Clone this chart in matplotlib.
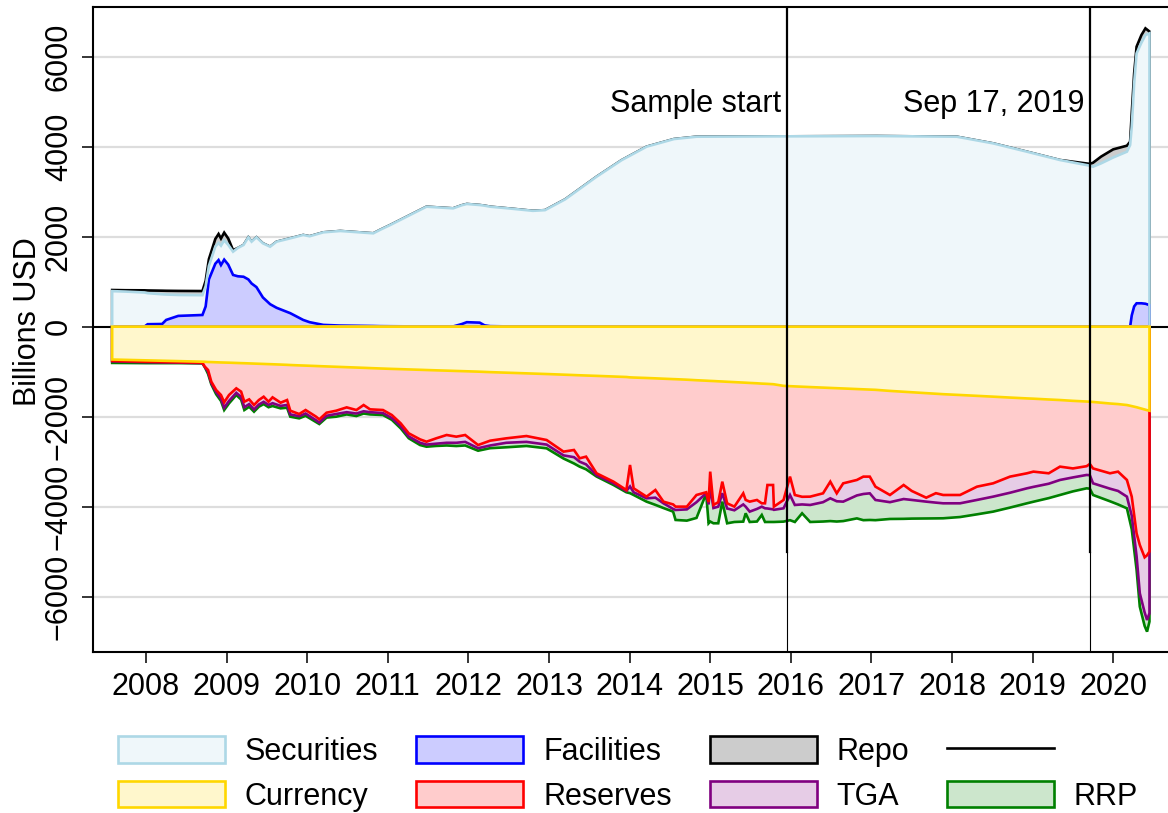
import matplotlib
matplotlib.use("Agg")
import matplotlib.pyplot as plt
from matplotlib.patches import Patch
from matplotlib.lines import Line2D
import numpy as np

plt.rcParams['font.family'] = ['Liberation Sans', 'DejaVu Sans']

# ---- assets side (billions USD), decimal years ----
asset_years = [2007.58, 2007.75, 2007.98, 2008.02, 2008.20, 2008.25, 2008.40, 2008.70,
               2008.74, 2008.78, 2008.86, 2008.90, 2008.93, 2008.97, 2009.02, 2009.08,
               2009.14, 2009.21, 2009.27, 2009.31, 2009.37, 2009.45, 2009.54, 2009.62,
               2009.79, 2009.95, 2010.03, 2010.20, 2010.41, 2010.82, 2010.90, 2011.03,
               2011.48, 2011.81, 2011.92, 2011.98, 2012.14, 2012.20, 2012.27, 2012.55,
               2012.80, 2012.95, 2013.20, 2013.59, 2013.90, 2014.21, 2014.55, 2014.83,
               2015.93, 2017.07, 2018.06, 2018.51, 2018.93, 2019.34, 2019.71, 2019.75,
               2019.85, 2020.00, 2020.17, 2020.21, 2020.23, 2020.26, 2020.29, 2020.35,
               2020.40, 2020.45]
facilities = [0, 0, 0, 55, 60, 150, 240, 260,
              450, 1050, 1400, 1480, 1370, 1490, 1380, 1150,
              1120, 1110, 1050, 960, 880, 650, 500, 420,
              300, 150, 100, 40, 25, 15, 12, 10,
              5, 5, 60, 100, 90, 30, 12, 5,
              3, 2, 2, 1, 1, 0, 0, 0,
              0, 0, 0, 0, 0, 0, 0, 0,
              0, 0, 0, 0, 250, 450, 520, 520,
              510, 480]
securities = [790, 780, 760, 690, 660, 565, 465, 440,
              450, 300, 380, 380, 430, 430, 440, 517,
              630, 706, 937, 930, 1107, 1203, 1278, 1469,
              1664, 1888, 1910, 2057, 2102, 2060, 2137, 2250,
              2662, 2625, 2640, 2627, 2614, 2660, 2655, 2615,
              2572, 2588, 2828, 3332, 3699, 4000, 4170, 4222,
              4230, 4237, 4222, 4074, 3889, 3704, 3578, 3556,
              3630, 3760, 3889, 4037, 4194, 4957, 5554, 5791,
              5971, 6039]
repo = [25, 30, 48, 60, 80, 83, 90, 92,
        120, 150, 170, 200, 160, 170, 140, 33,
        0, 0, 0, 0, 0, 0, 0, 0,
        0, 0, 0, 0, 0, 0, 0, 0,
        0, 0, 0, 0, 0, 0, 0, 0,
        0, 0, 0, 0, 0, 0, 0, 0,
        0, 0, 0, 0, 0, 0, 40, 88,
        150, 181, 133, 74, 297, 223, 148, 170,
        149, 41]

# ---- liabilities side (billions USD, plotted negative) ----
liab_years = [2007.58, 2008.00, 2008.40, 2008.70, 2008.73, 2008.77, 2008.81, 2008.87,
              2008.93, 2008.97, 2009.03, 2009.12, 2009.18, 2009.22, 2009.28, 2009.34,
              2009.40, 2009.46, 2009.52, 2009.57, 2009.67, 2009.75, 2009.79, 2009.90,
              2009.98, 2010.11, 2010.15, 2010.24, 2010.36, 2010.49, 2010.61, 2010.70,
              2010.78, 2010.94, 2011.05, 2011.16, 2011.26, 2011.40, 2011.48, 2011.60,
              2011.73, 2011.85, 2011.96, 2012.12, 2012.27, 2012.47, 2012.72, 2012.97,
              2013.18, 2013.31, 2013.38, 2013.46, 2013.59, 2013.80, 2013.96, 2014.005,
              2014.05, 2014.21, 2014.32, 2014.42, 2014.54, 2014.57, 2014.71, 2014.83,
              2014.95, 2014.98, 2015.00, 2015.04, 2015.10, 2015.15, 2015.21, 2015.30,
              2015.41, 2015.44, 2015.49, 2015.58, 2015.64, 2015.68, 2015.71, 2015.78,
              2015.79, 2015.91, 2015.99, 2016.05, 2016.14, 2016.24, 2016.40, 2016.49,
              2016.57, 2016.65, 2016.82, 2016.90, 2016.98, 2017.05, 2017.23, 2017.40,
              2017.50, 2017.68, 2017.80, 2017.89, 2018.10, 2018.31, 2018.51, 2018.72,
              2018.93, 2019.01, 2019.20, 2019.34, 2019.50, 2019.67, 2019.71, 2019.75,
              2019.96, 2020.06, 2020.17, 2020.23, 2020.29, 2020.33, 2020.39, 2020.42,
              2020.45]
currency = [730, 748, 765, 778, 780, 785, 787, 791,
            795, 797, 800, 806, 810, 812, 816, 820,
            824, 828, 832, 835, 842, 848, 852, 860,
            865, 874, 877, 883, 891, 900, 908, 914,
            920, 931, 938, 944, 950, 958, 963, 970,
            977, 984, 990, 999, 1010, 1022, 1037, 1052,
            1066, 1075, 1080, 1085, 1093, 1107, 1118, 1126,
            1130, 1140, 1148, 1156, 1165, 1167, 1178, 1190,
            1200, 1203, 1205, 1208, 1214, 1218, 1224, 1232,
            1242, 1245, 1250, 1258, 1265, 1268, 1271, 1278,
            1280, 1315, 1322, 1327, 1334, 1342, 1354, 1361,
            1367, 1373, 1386, 1392, 1398, 1403, 1427, 1446,
            1457, 1477, 1490, 1500, 1518, 1537, 1555, 1575,
            1594, 1600, 1618, 1630, 1648, 1663, 1667, 1673,
            1707, 1720, 1741, 1765, 1790, 1810, 1840, 1855,
            1867]
reserves = [30, 30, 25, 22, 109, 178, 435, 616,
            723, 883, 718, 564, 634, 855, 799, 921,
            806, 728, 835, 735, 847, 782, 1015, 1081,
            987, 1126, 1182, 1028, 976, 893, 944, 827,
            917, 921, 1025, 1204, 1420, 1546, 1593, 1511,
            1430, 1460, 1417, 1631, 1523, 1459, 1393, 1466,
            1711, 1665, 1845, 1803, 2165, 2337, 2511, 1947,
            2462, 2637, 2481, 2732, 2785, 2832, 2821, 2550,
            2480, 2697, 2016, 2754, 2686, 2226, 2701, 2767,
            2461, 2605, 2638, 2593, 2660, 2657, 2247, 2240,
            2719, 2536, 2010, 2413, 2446, 2435, 2349, 2083,
            2336, 2108, 2020, 1940, 1934, 2152, 2313, 2072,
            2193, 2323, 2210, 2240, 2222, 2018, 1926, 1757,
            1664, 1621, 1640, 1480, 1502, 1437, 1384, 1477,
            1551, 1501, 1665, 2012, 2802, 3040, 3285, 3225,
            3132]
tga = [10, 10, 8, 10, 5, 37, 28, 43,
       82, 120, 132, 100, 116, 123, 105, 99,
       100, 114, 73, 130, 71, 110, 83, 49,
       78, 80, 71, 69, 73, 107, 78, 139,
       63, 68, 67, 62, 70, 76, 64, 119,
       173, 136, 153, 70, 107, 99, 130, 102,
       83, 160, 75, 172, 42, 36, 21, 477,
       88, 37, 171, 37, 100, 74, 61, 160,
       20, 50, 334, 68, 100, 256, 115, 81,
       247, 150, 222, 199, 75, 111, 522, 542,
       71, 185, 408, 222, 170, 185, 197, 370,
       177, 407, 344, 386, 371, 296, 160, 312,
       200, 88, 210, 185, 185, 295, 296, 358,
       334, 339, 232, 296, 200, 195, 249, 331,
       342, 429, 371, 423, 508, 1075, 1225, 1438,
       1371]
rrp = [35, 22, 12, 5, 6, 50, 30, 50,
       50, 52, 54, 48, 60, 62, 60, 49,
       48, 50, 50, 63, 55, 60, 50, 47,
       50, 40, 33, 40, 60, 50, 55, 50,
       50, 43, 40, 49, 40, 50, 47, 50,
       60, 72, 80, 56, 60, 100, 91, 83,
       70, 140, 110, 110, 30, 38, 30, 150,
       60, 74, 160, 105, 60, 222, 250, 350,
       10, 419, 775, 339, 369, 188, 329, 260,
       382, 147, 230, 280, 184, 304, 300, 280,
       270, 296, 560, 378, 197, 378, 430, 506,
       450, 432, 510, 582, 592, 449, 373, 440,
       415, 374, 350, 333, 305, 320, 333, 330,
       333, 330, 320, 334, 310, 297, 300, 259,
       280, 300, 259, 300, 300, 296, 300, 259,
       184]

event_years = [2015.95, 2019.71]
event_labels = ["Sample start", "Sep 17, 2019"]

# stacked boundaries
ax_x = np.array(asset_years)
fac_top = np.array(facilities, dtype=float)
sec_top = fac_top + np.array(securities)
tot_top = sec_top + np.array(repo)

lx = np.array(liab_years)
cur_b = -np.array(currency, dtype=float)
res_b = cur_b - np.array(reserves)
tga_b = res_b - np.array(tga)
rrp_b = tga_b - np.array(rrp)

LW = 1.9
FS = 22

fig = plt.figure(figsize=(11.68, 8.13), dpi=100)
ax = fig.add_axes([93.3 / 1168, (813 - 652.3) / 813, (1193.8 - 93.3) / 1168, (652.3 - 6.7) / 813])
ax.set_xlim(2007.346, 2021.0)
ax.set_ylim(-7236, 7111)

for yv in [-6000, -4000, -2000, 2000, 4000, 6000]:
    ax.axhline(yv, color='#dddddd', lw=1.6, zorder=0)
ax.axhline(0, color='black', lw=1.5, zorder=1)


def poly(x, top, face, edge, fill=True, z=2):
    xs = np.r_[x, x[::-1]]
    ys = np.r_[top, np.zeros_like(top)]
    if fill:
        ax.fill(xs, ys, facecolor=face, edgecolor=edge, lw=LW, zorder=z)
    else:
        ax.fill(xs, ys, fill=False, edgecolor=edge, lw=LW, zorder=z)


poly(ax_x, tot_top, '#cccccc', 'black', z=2)
poly(ax_x, sec_top, '#eff7fa', 'none', z=3)
poly(ax_x, fac_top, '#ccccff', 'blue', z=4)
poly(ax_x, sec_top, None, '#add8e6', fill=False, z=5)

poly(lx, rrp_b, '#cce6cc', 'green', z=2)
poly(lx, tga_b, '#e6cce6', '#800080', z=3)
poly(lx, res_b, '#ffcccc', 'red', z=4)
poly(lx, cur_b, '#fff7cc', '#ffd700', z=5)

for xv, lab in zip(event_years, event_labels):
    ax.plot([xv, xv], [-5000, 7111], color='black', lw=1.6, zorder=6)
    ax.plot([xv, xv], [-7236, -5000], color='black', lw=0.8, zorder=6)
    ax.annotate(lab, (xv, 4780), xytext=(-4, 0), textcoords='offset points',
                ha='right', va='baseline', fontsize=FS, zorder=7)

years = list(range(2008, 2021))
ax.set_xticks(years)
ax.set_xticklabels([str(y) for y in years], fontsize=FS)
yt = [-6000, -4000, -2000, 0, 2000, 4000, 6000]
ax.set_yticks(yt)
ax.set_yticklabels([str(v).replace('-', '\u2212') for v in yt], fontsize=FS,
                   rotation=90, va='center')
ax.tick_params(axis='both', length=8, width=1.1, pad=6)
for s in ax.spines.values():
    s.set_linewidth(1.5)

fig.text(28 / 1168, 1 - 322 / 813, "Billions USD", rotation=90, fontsize=FS,
         ha='center', va='center')

handles = [
    Patch(facecolor='#eff7fa', edgecolor='#add8e6', lw=LW),
    Patch(facecolor='#fff7cc', edgecolor='#ffd700', lw=LW),
    Patch(facecolor='#ccccff', edgecolor='blue', lw=LW),
    Patch(facecolor='#ffcccc', edgecolor='red', lw=LW),
    Patch(facecolor='#cccccc', edgecolor='black', lw=LW),
    Patch(facecolor='#e6cce6', edgecolor='#800080', lw=LW),
    Line2D([], [], color='black', lw=LW),
    Patch(facecolor='#cce6cc', edgecolor='green', lw=LW),
]
labels = ["Securities", "Currency", "Facilities", "Reserves", "Repo", "TGA", "", "RRP"]
fig.legend(handles, labels, ncol=4, loc='center left', bbox_to_anchor=(118 / 1168, 39 / 813),
           frameon=False, fontsize=FS, handlelength=3.5, handleheight=0.95,
           handletextpad=0.65, columnspacing=1.24, labelspacing=0.45, borderpad=0,
           borderaxespad=0)

fig.savefig("out.png", dpi=100)
